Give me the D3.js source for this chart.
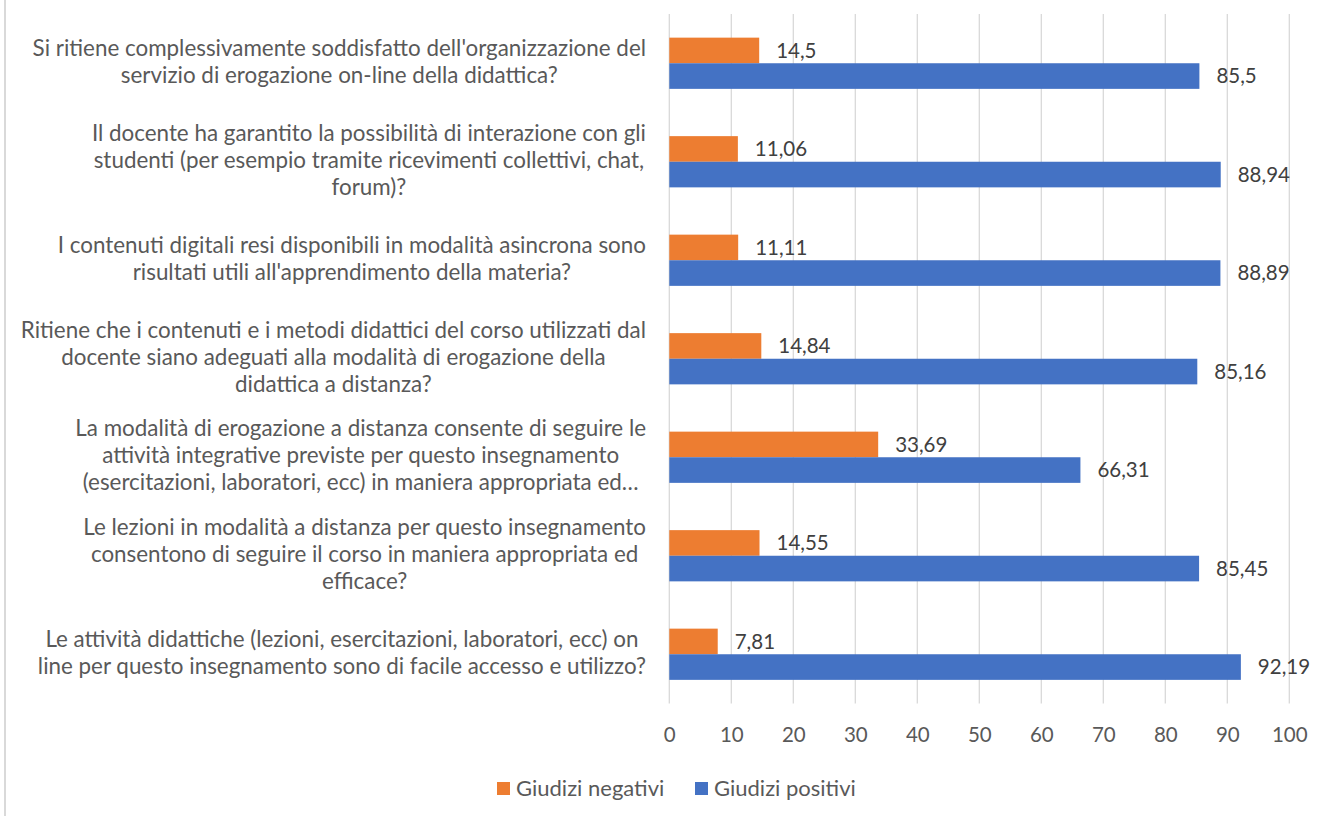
<!DOCTYPE html>
<html>
<head>
<meta charset="utf-8">
<script src="https://cdn.jsdelivr.net/npm/d3@7"></script>
<style>
  body { margin: 0; background: #fff; }
  svg { display: block; font-family: Lato, "Open Sans", sans-serif; }
</style>
</head>
<body>
<div id="visContainer"></div>
<script>
'use strict';

// category labels, already wrapped as in the original chart (top to bottom)
const categories = [
  ["Si ritiene complessivamente soddisfatto dell'organizzazione del",
   "servizio di erogazione on-line della didattica?"],
  ["Il docente ha garantito la possibilità di interazione con gli",
   "studenti (per esempio tramite ricevimenti collettivi, chat,",
   "forum)?"],
  ["I contenuti digitali resi disponibili in modalità asincrona sono",
   "risultati utili all'apprendimento della materia?"],
  ["Ritiene che i contenuti e i metodi didattici del corso utilizzati dal",
   "docente siano adeguati alla modalità di erogazione della",
   "didattica a distanza?"],
  ["La modalità di erogazione a distanza consente di seguire le",
   "attività integrative previste per questo insegnamento",
   "(esercitazioni, laboratori, ecc) in maniera appropriata ed…"],
  ["Le lezioni in modalità a distanza per questo insegnamento",
   "consentono di seguire il corso in maniera appropriata ed",
   "efficace?"],
  ["Le attività didattiche (lezioni, esercitazioni, laboratori, ecc) on",
   "line per questo insegnamento sono di facile accesso e utilizzo?"]
];

// series values (same order as categories)
const negativi = [14.5, 11.06, 11.11, 14.84, 33.69, 14.55, 7.81];
const positivi = [85.5, 88.94, 88.89, 85.16, 66.31, 85.45, 92.19];

const seriesNames = ["Giudizi negativi", "Giudizi positivi"];
const seriesColors = ["#ED7D31", "#4472C4"];
const xTicks = [0, 10, 20, 30, 40, 50, 60, 70, 80, 90, 100];

// svg and margins
var svg = d3.select('#visContainer')
    .append('svg')
    .attr('width', 1331)
    .attr('height', 816);

var margin = {top: 14, left: 669.3, right: 41.7, bottom: 112.5},
    width = 1331 - margin.left - margin.right,
    height = 816 - margin.top - margin.bottom;

// light border on the left side
svg.append('rect')
    .attr('x', 4).attr('y', 0)
    .attr('width', 2).attr('height', 816)
    .attr('fill', '#d9d9d9');

var x = d3.scaleLinear().domain([0, 100]).range([0, width]);
var y = d3.scaleBand().domain(d3.range(categories.length)).range([0, height])
    .paddingInner(0.48).paddingOuter(0.24);
var ySub = d3.scaleBand().domain([0, 1]).range([0, y.bandwidth()]);

var g = svg.append('g')
    .attr('transform', 'translate(' + margin.left + ',' + margin.top + ')');

// vertical gridlines
g.append('g')
  .selectAll('line')
  .data(xTicks)
  .join('line')
    .attr('x1', function(d) { return x(d); })
    .attr('x2', function(d) { return x(d); })
    .attr('y1', 0).attr('y2', height)
    .attr('stroke', '#d9d9d9')
    .attr('stroke-width', 1.3);

// x axis labels
var xAxis = g.append('g')
    .attr('transform', 'translate(0,' + height + ')')
    .call(d3.axisBottom(x).tickValues(xTicks).tickSize(0).tickPadding(24));
xAxis.select('.domain').remove();
xAxis.selectAll('text')
    .attr('font-family', 'Lato, sans-serif')
    .attr('font-size', 20.5)
    .attr('fill', '#595959');

// bars
var rows = categories.map(function(c, i) {
  return [{s: 0, i: i, v: negativi[i]}, {s: 1, i: i, v: positivi[i]}];
}).flat();

g.selectAll('rect.bar')
  .data(rows)
  .join('rect')
    .attr('class', 'bar')
    .attr('x', 0)
    .attr('y', function(d) { return y(d.i) + ySub(d.s); })
    .attr('width', function(d) { return x(d.v); })
    .attr('height', ySub.bandwidth())
    .attr('fill', function(d) { return seriesColors[d.s]; });

// value labels
g.selectAll('text.val')
  .data(rows)
  .join('text')
    .attr('class', 'val')
    .attr('x', function(d) { return x(d.v) + 17; })
    .attr('y', function(d) { return y(d.i) + ySub(d.s) + ySub.bandwidth() / 2; })
    .attr('dy', '0.36em')
    .attr('font-size', 20.5)
    .attr('fill', '#404040')
    .text(function(d) { return String(d.v).replace('.', ','); });

// category labels, lines centred inside a right-aligned block
var lineH = 27, rightEdge = 646;
categories.forEach(function(lines, i) {
  var cy = margin.top + y(i) + y.bandwidth() / 2 - 2;
  var t = svg.append('text')
      .attr('font-size', 22.4)
      .attr('fill', '#595959')
      .attr('text-anchor', 'middle');
  var spans = lines.map(function(l, k) {
    return t.append('tspan')
        .attr('y', cy + (k - (lines.length - 1) / 2) * lineH)
        .attr('dy', '0.35em')
        .text(l);
  });
  var maxW = d3.max(spans, function(s) { return s.node().getComputedTextLength(); });
  spans.forEach(function(s) { s.attr('x', rightEdge - maxW / 2); });
});

// legend
var legendX = [497, 695];
var legend = svg.append('g').selectAll('g')
  .data(seriesNames)
  .join('g')
    .attr('transform', function(d, i) { return 'translate(' + legendX[i] + ',782)'; });
legend.append('rect')
    .attr('width', 13).attr('height', 13)
    .attr('fill', function(d, i) { return seriesColors[i]; });
legend.append('text')
    .attr('x', 19).attr('y', 6.5).attr('dy', '0.35em')
    .attr('font-size', 22)
    .attr('fill', '#595959')
    .text(function(d) { return d; });
</script>
</body>
</html>
